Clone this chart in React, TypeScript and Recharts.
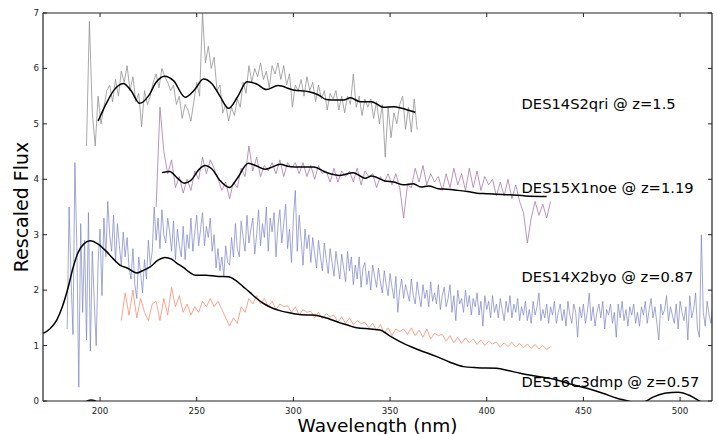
import React from 'react';
import { LineChart, Line, XAxis, YAxis, ReferenceDot, Label } from 'recharts';

// noisy spectra: uniform wavelength grid (nm), flux
const qriStart = 193;
const qriStep = 1.5;
const qriFlux = [
  4.6, 6.85, 5.2, 4.6, 5.5, 5.0, 5.3, 5.6, 5.7, 5.4,
  5.8, 5.5, 5.95, 5.75, 6.05, 5.6, 5.85, 5.4, 5.55, 4.95,
  5.6, 5.35, 5.5, 5.75, 5.9, 5.65, 6.0, 5.85, 5.75, 5.6,
  5.7, 5.35, 5.5, 5.1, 5.35, 5.25, 5.05, 5.4, 5.75, 5.5,
  7.0, 6.1, 6.4, 6.0, 6.2, 5.6, 5.7, 5.2, 5.35, 5.05,
  5.3, 5.15, 5.45, 5.3, 5.75, 5.55, 6.05, 5.75, 6.0, 5.85,
  6.1, 5.8, 5.95, 5.65, 6.05, 5.9, 6.1, 5.8, 6.05, 5.7,
  5.9, 5.3, 5.7, 5.6, 5.8, 5.5, 5.85, 5.6, 5.75, 5.4,
  5.7, 5.45, 5.6, 5.25, 5.55, 5.45, 5.6, 5.25, 5.5, 5.2,
  5.5, 5.35, 5.9, 5.3, 5.5, 5.15, 5.45, 5.3, 5.45, 5.1,
  5.4, 5.0, 5.35, 4.4, 5.3, 4.75, 5.2, 5.0, 5.35, 5.5,
  4.9, 5.3, 4.85, 5.45, 4.9,
];

const noeStart = 229;
const noeStep = 2;
const noeFlux = [
  3.5, 5.3, 4.5, 4.1, 4.35, 3.85, 4.05, 3.75, 4.0, 3.8,
  4.15, 4.0, 4.4, 4.1, 4.35, 4.2, 4.0, 3.8, 3.95, 3.65,
  3.95, 3.85, 4.2, 4.05, 4.6, 4.15, 4.4, 4.05, 4.25, 4.15,
  4.3, 4.1, 4.35, 4.05, 4.3, 4.2, 4.3, 4.1, 4.3, 4.05,
  4.25, 4.0, 4.25, 4.1, 4.15, 3.95, 4.2, 3.95, 4.15, 4.05,
  4.15, 3.95, 4.2, 3.9, 4.15, 4.05, 4.1, 3.85, 4.05, 3.95,
  4.1, 3.9, 4.1, 3.85, 3.3, 3.9, 3.85, 4.2, 3.95, 4.25,
  3.9, 4.1, 3.95, 4.05, 3.8, 4.1, 3.85, 4.2, 3.9, 4.1,
  3.8, 4.2, 3.85, 4.15, 3.8, 4.05, 3.9, 4.0, 3.7, 3.95,
  3.7, 4.0, 3.65, 3.9, 3.6, 3.4, 2.85, 3.3, 3.6, 3.35,
  3.55, 3.3, 3.6,
];

const byoStart = 183;
const byoStep = 1;
const byoFlux = [
  1.3, 3.5, 2.2, 1.2, 4.3, 2.8, 0.25, 3.2, 1.6, 2.9,
  1.1, 3.4, 0.9, 2.7, 1.8, 1.0, 2.5, 3.1, 1.9, 3.3,
  2.6, 3.6, 3.0, 2.7, 3.35, 2.5, 3.2, 2.8, 2.45, 3.05,
  2.6, 2.95, 2.4, 2.2, 2.75, 2.1, 1.85, 2.6, 2.3, 1.95,
  2.55, 2.2, 2.9, 2.45, 2.7, 3.5, 2.9, 3.3, 2.75, 3.45,
  3.0, 2.85, 3.3, 3.05, 2.7, 3.25, 2.55, 3.1, 2.8, 2.6,
  3.15, 2.55, 3.0, 2.75, 3.3, 2.7, 3.05, 3.35, 2.8, 3.1,
  3.4, 2.8, 3.15, 2.95, 3.3, 2.7, 3.0, 2.4, 2.75, 2.35,
  2.6, 2.25, 2.8, 2.5, 2.45, 2.95, 2.6, 3.2, 2.75, 2.6,
  3.25, 2.95, 2.7, 3.35, 2.85, 3.1, 3.3, 2.65, 3.0, 3.45,
  2.8, 3.2, 2.95, 3.5, 2.7, 3.3, 3.05, 3.4, 2.6, 3.15,
  3.45, 2.85, 3.2, 3.55, 2.75, 3.1, 2.5, 3.3, 3.8, 2.7,
  3.35, 2.9, 2.45, 3.1, 2.75, 3.0, 2.5, 2.95, 2.65, 2.4,
  2.9, 2.6, 2.35, 2.85, 2.55, 2.3, 2.75, 2.5, 2.25, 2.7,
  2.45, 2.2, 2.65, 2.4, 2.15, 2.7, 2.35, 2.6, 2.1, 2.45,
  2.2, 2.6, 2.05, 2.4, 2.5, 2.1, 2.35, 2.0, 2.45, 2.25,
  2.05, 2.4, 2.15, 1.95, 2.35, 2.1, 1.9, 2.3, 2.05, 1.85,
  2.25, 1.6, 2.0, 2.2, 1.85, 2.1, 1.95, 1.8, 2.2, 1.9,
  1.75, 2.15, 1.9, 1.7, 2.1, 1.85, 2.0, 1.7, 2.15, 1.8,
  1.95, 1.75, 2.1, 1.65, 1.9, 2.05, 1.7, 1.85, 2.1, 1.6,
  1.9, 1.45, 2.0, 1.75, 1.85, 1.6, 2.0, 1.7, 1.9, 1.55,
  1.85, 1.7, 1.95, 1.55, 1.8, 1.35, 1.9, 1.65, 1.8, 1.5,
  1.9, 1.6, 1.75, 1.5, 1.85, 1.65, 1.45, 1.8, 1.6, 1.9,
  1.5, 1.75, 1.6, 1.85, 1.45, 1.7, 1.55, 1.8, 1.45, 1.65,
  1.4, 1.8, 1.55, 1.7, 1.95, 1.45, 1.65, 1.5, 1.75, 1.4,
  1.7, 1.55, 1.8, 1.4, 1.6, 1.75, 1.45, 1.65, 1.35, 1.8,
  1.55, 1.4, 1.75, 1.6, 1.15, 1.7, 1.5, 1.75, 1.4, 1.6,
  1.95, 1.45, 1.7, 1.35, 1.6, 1.75, 1.5, 1.8, 1.3, 1.65,
  1.55, 1.75, 1.4, 1.6, 1.15, 1.75, 1.5, 1.8, 1.45, 1.65,
  1.35, 1.7, 1.55, 1.75, 1.4, 1.6, 1.35, 1.7, 1.55, 1.8,
  1.4, 1.65, 1.85, 1.5, 1.7, 1.4, 1.1, 1.75, 1.55, 1.65,
  1.9, 1.45, 1.7, 1.55, 1.4, 1.75, 1.3, 1.8, 1.6, 1.45,
  1.7, 1.1, 1.9, 1.5, 1.65, 1.95, 1.3, 1.15, 3.0, 1.6,
  1.35, 1.8, 1.55, 1.4, 1.8, 1.5, 1.65,
];

const dmpStart = 211;
const dmpStep = 2;
const dmpFlux = [
  1.45, 1.95, 1.55, 2.0, 1.5, 1.85, 1.6, 1.45, 1.75, 1.8,
  1.45, 1.85, 1.55, 2.05, 1.7, 1.9, 1.6, 1.75, 1.55, 1.7,
  1.6, 1.8, 1.7, 1.85, 1.7, 1.8, 1.65, 1.5, 1.35, 1.5,
  1.4, 1.7, 1.6, 1.85, 1.75, 1.9, 1.75, 1.85, 1.7, 1.8,
  1.65, 1.75, 1.7, 1.72, 1.6, 1.7, 1.55, 1.65, 1.6, 1.62,
  1.5, 1.6, 1.48, 1.58, 1.52, 1.55, 1.42, 1.52, 1.4, 1.5,
  1.38, 1.45, 1.4, 1.42, 1.32, 1.4, 1.28, 1.38, 1.22, 1.32,
  1.18, 1.3, 1.25, 1.3, 1.2, 1.32, 1.18, 1.28, 1.15, 1.3,
  1.12, 1.22, 1.18, 1.2, 1.08, 1.18, 1.05, 1.15, 1.04, 1.14,
  1.05, 1.12, 1.02, 1.1, 1.0, 1.08, 1.03, 1.06, 0.97, 1.05,
  0.98, 1.06, 0.97, 1.04, 0.96, 1.03, 0.95, 1.02, 0.94, 1.0,
  0.93, 0.98,
];

// smooth template fits, [wavelength, flux]
const qriFit = [
  [199, 5.05], [203, 5.35], [207, 5.6], [212, 5.73], [216, 5.6], [220.5, 5.37],
  [225, 5.5], [229, 5.75], [233.5, 5.86], [238, 5.78], [244, 5.48], [249, 5.62],
  [253.5, 5.81], [258, 5.72], [262, 5.5], [266.5, 5.28], [271, 5.48], [276, 5.76],
  [281, 5.72], [286, 5.62], [292, 5.69], [300, 5.61], [308, 5.58], [313, 5.52],
  [317, 5.44], [322, 5.43], [326, 5.43], [329.5, 5.47], [334.5, 5.4], [340.5, 5.4],
  [346.5, 5.3], [352, 5.31], [356, 5.28], [360, 5.24], [363, 5.21],
];

const noeFit = [
  [232, 4.12], [236, 4.14], [240, 4.02], [243.5, 3.93], [247, 3.98], [251, 4.17],
  [254.3, 4.25], [258, 4.18], [262, 3.98], [266.9, 3.85], [271, 4.02], [276.7, 4.29],
  [281, 4.24], [285.3, 4.18], [289, 4.22], [293.1, 4.27], [298, 4.23], [303.5, 4.22],
  [310.4, 4.22], [317.3, 4.12], [324.1, 4.07], [331, 4.12], [337.1, 4.02], [340.5, 4.06],
  [347.4, 3.97], [352, 3.95], [357, 3.9], [362, 3.92], [366, 3.86], [370, 3.88],
  [375, 3.83], [379.3, 3.82], [385, 3.8], [390, 3.78], [394.9, 3.75], [400, 3.74],
  [405, 3.73], [412, 3.72], [420, 3.7], [431, 3.69],
];

const broadFit = [
  [170.5, 1.22], [174, 1.3], [177.6, 1.46], [180.5, 1.7], [183.6, 2.06], [186, 2.4],
  [188.8, 2.69], [191.5, 2.83], [194.8, 2.89], [199, 2.83], [203.5, 2.69], [207, 2.56],
  [210.3, 2.45], [214, 2.4], [219, 2.31], [222, 2.35], [225.9, 2.42], [230, 2.54],
  [233.6, 2.59], [237, 2.56], [240, 2.48], [243.1, 2.41], [246, 2.33], [249.2, 2.27],
  [255, 2.27], [260, 2.25], [266.4, 2.24], [270, 2.18], [274.1, 2.06], [277.5, 1.96],
  [281, 1.85], [285, 1.75], [289.6, 1.67], [293, 1.63], [296.6, 1.6], [301, 1.57],
  [306.9, 1.55], [310, 1.55], [313.8, 1.53], [318, 1.49], [324.1, 1.41], [328, 1.37],
  [332.8, 1.32], [339.7, 1.3], [344.8, 1.28], [350, 1.17], [356.9, 1.04], [365, 0.92],
  [374.2, 0.8], [381, 0.7], [387.9, 0.62], [395, 0.6], [405.2, 0.59], [411, 0.55],
  [417.3, 0.5], [425, 0.45], [436.3, 0.38], [444, 0.3], [451.8, 0.23], [460, 0.14],
  [467.3, 0.05], [474, -0.01], [478, -0.06], [482, -0.01], [486, 0.07], [492, 0.14],
  [499, 0.16], [505, 0.1], [510, 0.0], [515, -0.1],
];

const tailFit = [
  [192, -0.03], [194, 0.01], [195.5, 0.02], [197, 0.01], [199, -0.03],
];

const xTicks = [200, 250, 300, 350, 400, 450, 500];
const yTicks = [0, 1, 2, 3, 4, 5, 6, 7];

const tagNames = [
  'DES14S2qri @ z=1.5',
  'DES15X1noe @ z=1.19',
  'DES14X2byo @ z=0.87',
  'DES16C3dmp @ z=0.57',
];
const tagWave = [418, 418, 418, 418];
const tagFlux = [5.36, 3.84, 2.24, 0.34];

const grid = (start: number, step: number, flux: number[]) =>
  flux.map((y, i) => ({ x: start + i * step, y }));
const pairs = (pts: number[][]) => pts.map(([x, y]) => ({ x, y }));

const ink = '#222';

const BottomTick = (props: any) => {
  const { x, y, payload } = props;
  return (
    <g>
      <line x1={x} x2={x} y1={y} y2={y - 4} stroke={ink} />
      <text x={x} y={y + 12.5} textAnchor="middle" fontSize={8.7} fill={ink}>
        {payload.value}
      </text>
    </g>
  );
};

const TopTick = (props: any) => {
  const { x, y } = props;
  return <line x1={x} x2={x} y1={y} y2={y + 4} stroke={ink} />;
};

const LeftTick = (props: any) => {
  const { x, y, payload } = props;
  return (
    <g>
      <line x1={x} x2={x + 4} y1={y} y2={y} stroke={ink} />
      <text x={x - 4} y={y + 3} textAnchor="end" fontSize={8.7} fill={ink}>
        {payload.value}
      </text>
    </g>
  );
};

const RightTick = (props: any) => {
  const { x, y } = props;
  return <line x1={x} x2={x - 4} y1={y} y2={y} stroke={ink} />;
};

const xTitle = (props: any) => {
  const vb = props.viewBox;
  return (
    <text x={vb.x + vb.width / 2} y={431.5} textAnchor="middle" fontSize={18.5} fill="#000">
      Wavelength (nm)
    </text>
  );
};

const yTitle = (props: any) => {
  const vb = props.viewBox;
  const cy = vb.y + vb.height / 2;
  return (
    <text x={28} y={cy} transform={`rotate(-90 28 ${cy})`} textAnchor="middle" fontSize={19} fill="#000">
      Rescaled Flux
    </text>
  );
};

export default function App() {
  const xDomain = [170.5, 516.5];
  const axisLine = { stroke: ink, strokeWidth: 1.2 };
  return (
    <div style={{ position: 'absolute', left: 0, top: 0, width: 718, height: 434, background: '#fff', fontFamily: '"DejaVu Sans", sans-serif' }}>
      <LineChart width={718} height={434} margin={{ top: 0, right: 0, bottom: 0, left: 0 }}>
        <XAxis dataKey="x" type="number" domain={xDomain} allowDataOverflow ticks={xTicks}
          height={33} tickSize={0} tickMargin={0} tickLine={false} tick={<BottomTick />} axisLine={axisLine}>
          <Label content={xTitle} />
        </XAxis>
        <XAxis xAxisId="top" orientation="top" dataKey="x" type="number" domain={xDomain} allowDataOverflow
          ticks={xTicks} height={13} tickSize={0} tickMargin={0} tickLine={false} tick={<TopTick />} axisLine={axisLine} />
        <YAxis type="number" domain={[0, 7]} allowDataOverflow ticks={yTicks} width={43}
          tickSize={0} tickMargin={0} tickLine={false} tick={<LeftTick />} axisLine={axisLine}>
          <Label content={yTitle} />
        </YAxis>
        <YAxis yAxisId="right" orientation="right" type="number" domain={[0, 7]} allowDataOverflow ticks={yTicks}
          width={6} tickSize={0} tickMargin={0} tickLine={false} tick={<RightTick />} axisLine={axisLine} />

        <Line data={grid(byoStart, byoStep, byoFlux)} dataKey="y" stroke="#7c84c6" strokeOpacity={0.8}
          strokeWidth={0.9} dot={false} isAnimationActive={false} />
        <Line data={grid(dmpStart, dmpStep, dmpFlux)} dataKey="y" stroke="#f38a6c" strokeOpacity={0.85}
          strokeWidth={0.9} dot={false} isAnimationActive={false} />
        <Line data={grid(noeStart, noeStep, noeFlux)} dataKey="y" stroke="#a574a8" strokeOpacity={0.85}
          strokeWidth={0.9} dot={false} isAnimationActive={false} />
        <Line data={grid(qriStart, qriStep, qriFlux)} dataKey="y" stroke="#8e8e8e" strokeOpacity={0.85}
          strokeWidth={0.9} dot={false} isAnimationActive={false} />

        <Line data={pairs(qriFit)} dataKey="y" type="monotone" stroke="#000" strokeWidth={1.5} dot={false} isAnimationActive={false} />
        <Line data={pairs(noeFit)} dataKey="y" type="monotone" stroke="#000" strokeWidth={1.5} dot={false} isAnimationActive={false} />
        <Line data={pairs(broadFit)} dataKey="y" type="monotone" stroke="#000" strokeWidth={1.5} dot={false} isAnimationActive={false} />
        <Line data={pairs(tailFit)} dataKey="y" type="monotone" stroke="#000" strokeWidth={1.5} dot={false} isAnimationActive={false} />

        {tagNames.map((name, i) => (
          <ReferenceDot key={name} x={tagWave[i]} y={tagFlux[i]} r={0} fill="none" stroke="none"
            label={{ value: name, position: 'right', offset: 0, fontSize: 14.7, fill: '#000' }} />
        ))}
      </LineChart>
    </div>
  );
}
